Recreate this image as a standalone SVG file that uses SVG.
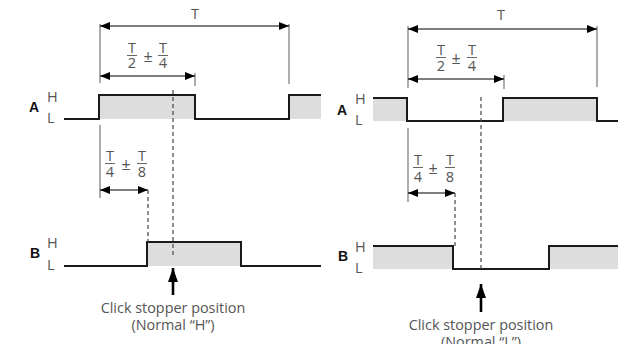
<svg xmlns="http://www.w3.org/2000/svg" width="618" height="344" viewBox="0 0 618 344">
<defs>
<marker id="ah" viewBox="0 0 10 8" refX="10" refY="4" markerWidth="10" markerHeight="8" markerUnits="userSpaceOnUse" orient="auto-start-reverse">
<path d="M0,0 L10,4 L0,8 Z" fill="#000"/>
</marker>
<marker id="up" viewBox="0 0 10 14" refX="5" refY="0" markerWidth="10" markerHeight="14" markerUnits="userSpaceOnUse" orient="0">
<path d="M5,0 L10,14 L0,14 Z" fill="#000"/>
</marker>
</defs>
<style>
.ext{stroke:#777;stroke-width:1.2;fill:none}
.dim{stroke:#000;stroke-width:1.2;fill:none}
.sig{stroke:#1a1a1a;stroke-width:2;fill:none}
.fill{fill:#dcdddc;stroke:none}
.dash{stroke:#444;stroke-width:1.2;stroke-dasharray:4,3;fill:none}
.bar{stroke:#666;stroke-width:1}
.t{font-family:"Open Sans","Noto Sans",sans-serif;fill:#555;font-size:14.5px}
.f{font-family:"Open Sans","Noto Sans",sans-serif;fill:#555;font-size:14.5px;text-anchor:middle}
.pm{font-family:"Open Sans","Noto Sans",sans-serif;fill:#555;font-size:16px;text-anchor:middle}
.lbl{font-family:"Liberation Sans",Arial,sans-serif;font-weight:bold;fill:#111;font-size:14px}
.cap{font-family:"Open Sans","Noto Sans",sans-serif;fill:#555;font-size:14.4px;text-anchor:middle}
.arr{stroke:#000;stroke-width:2.6;fill:none}
</style>
<rect width="618" height="344" fill="#fff"/>

<g id="left-panel">
<g id="left-signal-A">
<rect class="fill" x="99" y="95" width="96" height="24"/>
<rect class="fill" x="289" y="95" width="32" height="24"/>
<path class="sig" d="M64,119 H99 V95 H195 V119 H289 V95 H321"/>
<text class="lbl" x="29" y="112">A</text>
<text class="t" x="47" y="102">H</text>
<text class="t" x="47" y="123">L</text>
</g>
<g id="left-signal-B">
<rect class="fill" x="147" y="242" width="94" height="24"/>
<path class="sig" d="M64,266 H147 V242 H241 V266 H321"/>
<text class="lbl" x="30" y="258">B</text>
<text class="t" x="47" y="248">H</text>
<text class="t" x="47" y="270">L</text>
</g>
<g id="left-dims">
<text class="f" x="195" y="19">T</text>
<g id="left-half">
<text class="f" x="132" y="53">T</text>
<line class="bar" x1="127" y1="55.5" x2="137" y2="55.5"/>
<text class="f" x="132" y="67.5">2</text>
<text class="pm" x="148" y="62">±</text>
<text class="f" x="163" y="53">T</text>
<line class="bar" x1="158" y1="55.5" x2="168" y2="55.5"/>
<text class="f" x="163" y="67.5">4</text>
</g>
<g id="left-quarter">
<text class="f" x="110" y="161">T</text>
<line class="bar" x1="105" y1="163.5" x2="115" y2="163.5"/>
<text class="f" x="110" y="177">4</text>
<text class="pm" x="126" y="170">±</text>
<text class="f" x="142" y="161">T</text>
<line class="bar" x1="137" y1="163.5" x2="147" y2="163.5"/>
<text class="f" x="142" y="177">8</text>
</g>
</g>
<g id="left-caption">
<text class="cap" x="173" y="313">Click stopper position</text>
<text class="cap" x="173" y="330">(Normal “H”)</text>
</g>
</g>

<g id="right-panel">
<g id="right-signal-A">
<rect class="fill" x="373" y="98" width="34" height="23"/>
<rect class="fill" x="503" y="98" width="94" height="23"/>
<path class="sig" d="M373,98 H407 V121 H503 V98 H597 V121 H618"/>
<text class="lbl" x="337" y="115">A</text>
<text class="t" x="355" y="104">H</text>
<text class="t" x="355" y="125">L</text>
</g>
<g id="right-signal-B">
<rect class="fill" x="373" y="246" width="80" height="23"/>
<rect class="fill" x="549" y="246" width="69" height="23"/>
<path class="sig" d="M373,246 H453 V269 H549 V246 H618"/>
<text class="lbl" x="338" y="261">B</text>
<text class="t" x="355" y="252">H</text>
<text class="t" x="355" y="273">L</text>
</g>
<g id="right-dims">
<text class="f" x="501" y="20">T</text>
<g id="right-half">
<text class="f" x="441" y="55">T</text>
<line class="bar" x1="436" y1="57.5" x2="446" y2="57.5"/>
<text class="f" x="441" y="70.5">2</text>
<text class="pm" x="456" y="64">±</text>
<text class="f" x="472" y="55">T</text>
<line class="bar" x1="467" y1="57.5" x2="477" y2="57.5"/>
<text class="f" x="472" y="70.5">4</text>
</g>
<g id="right-quarter">
<text class="f" x="418" y="165">T</text>
<line class="bar" x1="413" y1="167.5" x2="423" y2="167.5"/>
<text class="f" x="418" y="181.5">4</text>
<text class="pm" x="433" y="174">±</text>
<text class="f" x="450" y="165">T</text>
<line class="bar" x1="445" y1="167.5" x2="455" y2="167.5"/>
<text class="f" x="450" y="181.5">8</text>
</g>
</g>
<g id="right-caption">
<text class="cap" x="481" y="330">Click stopper position</text>
<text class="cap" x="481" y="347">(Normal “L”)</text>
</g>
</g>

<g id="connectors">
<line class="ext" x1="100" y1="24" x2="100" y2="83"/>
<line class="ext" x1="100" y1="125" x2="100" y2="198"/>
<line class="ext" x1="195" y1="73" x2="195" y2="86"/>
<line class="ext" x1="289" y1="24" x2="289" y2="84"/>
<line class="dim" x1="100" y1="26" x2="289" y2="26" marker-start="url(#ah)" marker-end="url(#ah)"/>
<line class="dim" x1="100" y1="76" x2="195" y2="76" marker-start="url(#ah)" marker-end="url(#ah)"/>
<line class="dim" x1="100" y1="190" x2="148" y2="190" marker-start="url(#ah)" marker-end="url(#ah)"/>
<line class="dash" x1="148" y1="190" x2="148" y2="242"/>
<line class="dash" x1="173" y1="90" x2="173" y2="258"/>
<line class="arr" x1="173" y1="295" x2="173" y2="268" marker-end="url(#up)"/>

<line class="ext" x1="408" y1="26" x2="408" y2="88"/>
<line class="ext" x1="408" y1="128" x2="408" y2="202"/>
<line class="ext" x1="504" y1="75" x2="504" y2="89"/>
<line class="ext" x1="597" y1="26" x2="597" y2="87"/>
<line class="dim" x1="408" y1="29" x2="597" y2="29" marker-start="url(#ah)" marker-end="url(#ah)"/>
<line class="dim" x1="408" y1="79" x2="504" y2="79" marker-start="url(#ah)" marker-end="url(#ah)"/>
<line class="dim" x1="408" y1="193" x2="455" y2="193" marker-start="url(#ah)" marker-end="url(#ah)"/>
<line class="dash" x1="455" y1="193" x2="455" y2="246"/>
<line class="dash" x1="481" y1="97" x2="481" y2="272"/>
<line class="arr" x1="481" y1="312" x2="481" y2="284" marker-end="url(#up)"/>
</g>
</svg>
